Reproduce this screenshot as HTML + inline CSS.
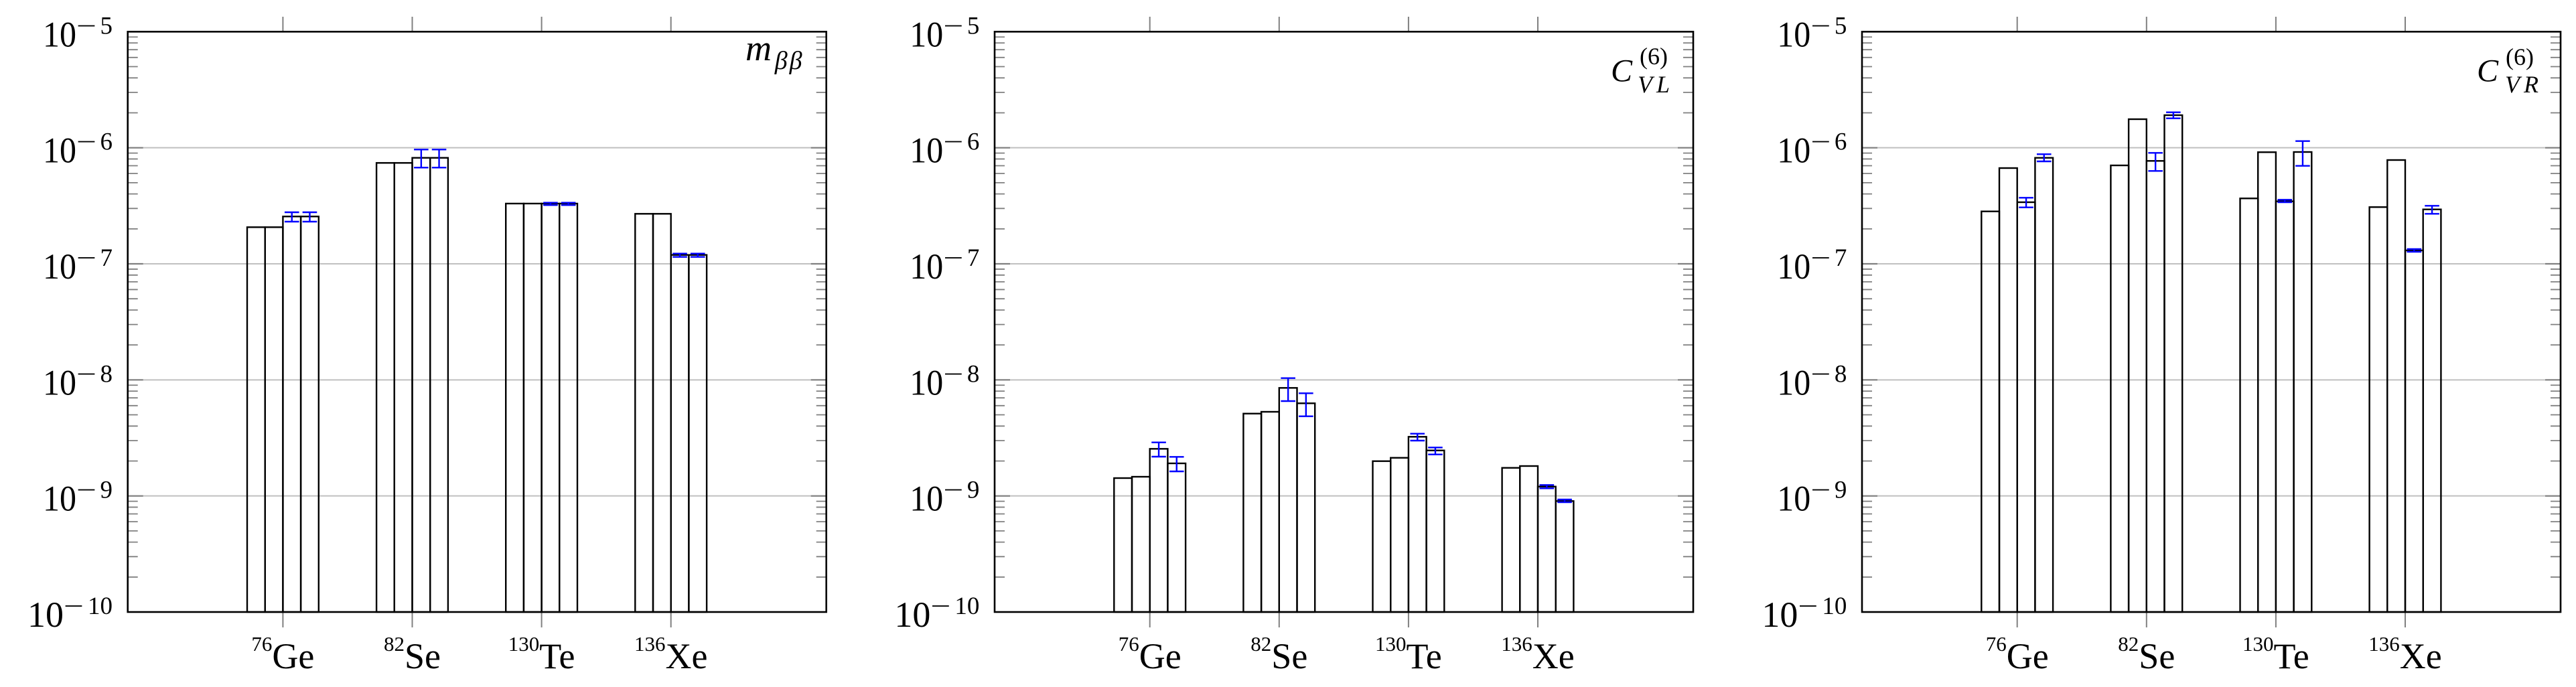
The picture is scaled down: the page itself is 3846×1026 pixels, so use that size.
<!DOCTYPE html>
<html><head><meta charset="utf-8"><style>
html,body{margin:0;padding:0;background:#fff;}
svg{display:block;}
</style></head><body>
<svg width="3846" height="1026" viewBox="0 0 3846 1026" xmlns="http://www.w3.org/2000/svg" font-family="'Liberation Serif', 'DejaVu Serif', serif">
<defs>
<g id="ticksL" stroke="#808080" stroke-width="1.8" fill="none">
<path d="M0 861.82h15M0 831.30h15M0 809.64h15M0 792.84h15M0 779.12h15M0 767.52h15M0 757.46h15M0 748.60h15
M0 688.49h15M0 657.97h15M0 636.31h15M0 619.51h15M0 605.79h15M0 594.19h15M0 584.13h15M0 575.27h15
M0 515.15h15M0 484.63h15M0 462.97h15M0 446.17h15M0 432.45h15M0 420.85h15M0 410.79h15M0 401.93h15
M0 341.82h15M0 311.30h15M0 289.64h15M0 272.84h15M0 259.12h15M0 247.52h15M0 237.46h15M0 228.60h15
M0 168.49h15M0 137.97h15M0 116.31h15M0 99.51h15M0 85.79h15M0 74.19h15M0 64.13h15M0 55.27h15"/>
<path d="M0 740.67h23M0 567.33h23M0 394h23M0 220.67h23" stroke-width="2.2"/>
</g>
<g id="grid" stroke="#c0c0c0" stroke-width="2">
<path d="M0 740.67H1043M0 567.33H1043M0 394H1043M0 220.67H1043"/>
</g>
<g id="xt" stroke="#808080" stroke-width="2">
<path d="M231.7 914V937M424.8 914V937M617.9 914V937M811 914V937M231.7 25V47.3M424.8 25V47.3M617.9 25V47.3M811 25V47.3"/>
</g>
<g id="ylab" font-family="'Liberation Serif', 'DejaVu Serif', serif" fill="#000">
<text x="-126.7" y="69.3" font-size="54" textLength="50" lengthAdjust="spacingAndGlyphs">10</text>
<text x="-76.7" y="50.3" font-size="36" textLength="30" lengthAdjust="spacingAndGlyphs">−</text>
<text x="-22.7" y="50.3" font-size="37" text-anchor="end">5</text>
<text x="-126.7" y="242.7" font-size="54" textLength="50" lengthAdjust="spacingAndGlyphs">10</text>
<text x="-76.7" y="223.7" font-size="36" textLength="30" lengthAdjust="spacingAndGlyphs">−</text>
<text x="-22.7" y="223.7" font-size="37" text-anchor="end">6</text>
<text x="-126.7" y="416" font-size="54" textLength="50" lengthAdjust="spacingAndGlyphs">10</text>
<text x="-76.7" y="397" font-size="36" textLength="30" lengthAdjust="spacingAndGlyphs">−</text>
<text x="-22.7" y="397" font-size="37" text-anchor="end">7</text>
<text x="-126.7" y="589.3" font-size="54" textLength="50" lengthAdjust="spacingAndGlyphs">10</text>
<text x="-76.7" y="570.3" font-size="36" textLength="30" lengthAdjust="spacingAndGlyphs">−</text>
<text x="-22.7" y="570.3" font-size="37" text-anchor="end">8</text>
<text x="-126.7" y="762.7" font-size="54" textLength="50" lengthAdjust="spacingAndGlyphs">10</text>
<text x="-76.7" y="743.7" font-size="36" textLength="30" lengthAdjust="spacingAndGlyphs">−</text>
<text x="-22.7" y="743.7" font-size="37" text-anchor="end">9</text>
<text x="-149.7" y="936" font-size="54" textLength="54" lengthAdjust="spacingAndGlyphs">10</text>
<text x="-95.7" y="917" font-size="36" textLength="30" lengthAdjust="spacingAndGlyphs">−</text>
<text x="-22.7" y="917" font-size="37" text-anchor="end">10</text>
</g>
<g id="xlab" font-size="54" text-anchor="middle" font-family="'Liberation Serif', 'DejaVu Serif', serif" fill="#000">
<text x="231.7" y="998"><tspan font-size="31" dy="-26">76</tspan><tspan dy="26">Ge</tspan></text>
<text x="424.8" y="998"><tspan font-size="31" dy="-26">82</tspan><tspan dy="26">Se</tspan></text>
<text x="617.9" y="998"><tspan font-size="31" dy="-26">130</tspan><tspan dy="26">Te</tspan></text>
<text x="811" y="998"><tspan font-size="31" dy="-26">136</tspan><tspan dy="26">Xe</tspan></text>
</g>
<g id="frame">
<use href="#grid"/>
<use href="#xt"/>
<use href="#ticksL"/>
<use href="#ticksL" transform="translate(1043,0) scale(-1,1)"/>
<use href="#ylab"/>
<use href="#xlab"/>
</g>
</defs>

<!-- Panel 1 -->
<g transform="translate(190.7,0)">
<use href="#frame"/>
<g fill="none" stroke="#000" stroke-width="2.4">
<rect x="178.3" y="339.3" width="26.7" height="574.7"/>
<rect x="205.0" y="339.3" width="26.7" height="574.7"/>
<rect x="231.7" y="323.3" width="26.7" height="590.7"/>
<rect x="258.4" y="323.3" width="26.7" height="590.7"/>
<rect x="371.4" y="243.3" width="26.7" height="670.7"/>
<rect x="398.1" y="243.3" width="26.7" height="670.7"/>
<rect x="424.8" y="235.7" width="26.7" height="678.3"/>
<rect x="451.5" y="235.7" width="26.7" height="678.3"/>
<rect x="564.5" y="304" width="26.7" height="610"/>
<rect x="591.2" y="304" width="26.7" height="610"/>
<rect x="617.9" y="304" width="26.7" height="610"/>
<rect x="644.6" y="304" width="26.7" height="610"/>
<rect x="757.6" y="319.3" width="26.7" height="594.7"/>
<rect x="784.3" y="319.3" width="26.7" height="594.7"/>
<rect x="811.0" y="380.7" width="26.7" height="533.3"/>
<rect x="837.7" y="380.7" width="26.7" height="533.3"/>
</g>
<path fill="none" stroke="#0000ff" stroke-width="2.4" d="
M234.25 317h21.6M245.05 317V331M234.25 331h21.6
M260.95 317h21.6M271.75 317V331M260.95 331h21.6
M427.35 223.3h21.6M438.15 223.3V250.3M427.35 250.3h21.6
M454.05 223.3h21.6M464.85 223.3V250.3M454.05 250.3h21.6
M620.45 302.7h21.6M631.25 302.7V306.3M620.45 306.3h21.6
M647.15 302.7h21.6M657.95 302.7V306.3M647.15 306.3h21.6
M813.55 378.7h21.6M824.35 378.7V383.7M813.55 383.7h21.6
M840.25 378.7h21.6M851.05 378.7V383.7M840.25 383.7h21.6"/>
<rect x="0" y="47.33" width="1043" height="866.67" fill="none" stroke="#000" stroke-width="2.6"/>
<text x="922.3" y="90" font-size="54" font-style="italic">m</text>
<text x="966" y="103" font-size="38" font-style="italic" letter-spacing="3">ββ</text>
</g>

<!-- Panel 2 -->
<g transform="translate(1485,0)">
<use href="#frame"/>
<g fill="none" stroke="#000" stroke-width="2.4">
<rect x="178.3" y="714" width="26.7" height="200"/>
<rect x="205.0" y="712" width="26.7" height="202"/>
<rect x="231.7" y="670.3" width="26.7" height="243.7"/>
<rect x="258.4" y="692" width="26.7" height="222"/>
<rect x="371.4" y="617.7" width="26.7" height="296.3"/>
<rect x="398.1" y="615" width="26.7" height="299"/>
<rect x="424.8" y="579.3" width="26.7" height="334.7"/>
<rect x="451.5" y="602.3" width="26.7" height="311.7"/>
<rect x="564.5" y="688.7" width="26.7" height="225.3"/>
<rect x="591.2" y="683.7" width="26.7" height="230.3"/>
<rect x="617.9" y="652.3" width="26.7" height="261.7"/>
<rect x="644.6" y="672.7" width="26.7" height="241.3"/>
<rect x="757.6" y="698.7" width="26.7" height="215.3"/>
<rect x="784.3" y="696" width="26.7" height="218"/>
<rect x="811.0" y="726.7" width="26.7" height="187.3"/>
<rect x="837.7" y="748.3" width="26.7" height="165.7"/>
</g>
<path fill="none" stroke="#0000ff" stroke-width="2.4" d="
M234.25 660.7h21.6M245.05 660.7V682M234.25 682h21.6
M260.95 682.3h21.6M271.75 682.3V704M260.95 704h21.6
M427.35 564.7h21.6M438.15 564.7V599M427.35 599h21.6
M454.05 587.3h21.6M464.85 587.3V621.7M454.05 621.7h21.6
M620.45 647.7h21.6M631.25 647.7V658M620.45 658h21.6
M647.15 668.3h21.6M657.95 668.3V678.7M647.15 678.7h21.6
M813.55 724.3h21.6M824.35 724.3V729.3M813.55 729.3h21.6
M840.25 746h21.6M851.05 746V750M840.25 750h21.6"/>
<rect x="0" y="47.33" width="1043" height="866.67" fill="none" stroke="#000" stroke-width="2.6"/>
<text x="920" y="121.7" font-size="48" font-style="italic">C</text>
<text x="963" y="96" font-size="36">(6)</text>
<text x="960" y="138" font-size="36" font-style="italic" letter-spacing="6">VL</text>
</g>

<!-- Panel 3 -->
<g transform="translate(2780,0)">
<use href="#frame"/>
<g fill="none" stroke="#000" stroke-width="2.4">
<rect x="178.3" y="315.7" width="26.7" height="598.3"/>
<rect x="205.0" y="251" width="26.7" height="663"/>
<rect x="231.7" y="302" width="26.7" height="612"/>
<rect x="258.4" y="235.7" width="26.7" height="678.3"/>
<rect x="371.4" y="247" width="26.7" height="667"/>
<rect x="398.1" y="178" width="26.7" height="736"/>
<rect x="424.8" y="240.3" width="26.7" height="673.7"/>
<rect x="451.5" y="172" width="26.7" height="742"/>
<rect x="564.5" y="296.3" width="26.7" height="617.7"/>
<rect x="591.2" y="227.3" width="26.7" height="686.7"/>
<rect x="617.9" y="300.7" width="26.7" height="613.3"/>
<rect x="644.6" y="227" width="26.7" height="687"/>
<rect x="757.6" y="309.3" width="26.7" height="604.7"/>
<rect x="784.3" y="239" width="26.7" height="675"/>
<rect x="811.0" y="374" width="26.7" height="540"/>
<rect x="837.7" y="312.7" width="26.7" height="601.3"/>
</g>
<path fill="none" stroke="#0000ff" stroke-width="2.4" d="
M234.25 295.3h21.6M245.05 295.3V309.7M234.25 309.7h21.6
M260.95 230.3h21.6M271.75 230.3V241M260.95 241h21.6
M427.35 228.3h21.6M438.15 228.3V255.3M427.35 255.3h21.6
M454.05 167.7h21.6M464.85 167.7V176.7M454.05 176.7h21.6
M620.45 298.3h21.6M631.25 298.3V302M620.45 302h21.6
M647.15 210.7h21.6M657.95 210.7V247.7M647.15 247.7h21.6
M813.55 372h21.6M824.35 372V376M813.55 376h21.6
M840.25 307.3h21.6M851.05 307.3V319.3M840.25 319.3h21.6"/>
<rect x="0" y="47.33" width="1043" height="866.67" fill="none" stroke="#000" stroke-width="2.6"/>
<text x="918" y="121.7" font-size="48" font-style="italic">C</text>
<text x="961" y="97" font-size="36">(6)</text>
<text x="960" y="138" font-size="36" font-style="italic" letter-spacing="6">VR</text>
</g>
</svg>
</body></html>
